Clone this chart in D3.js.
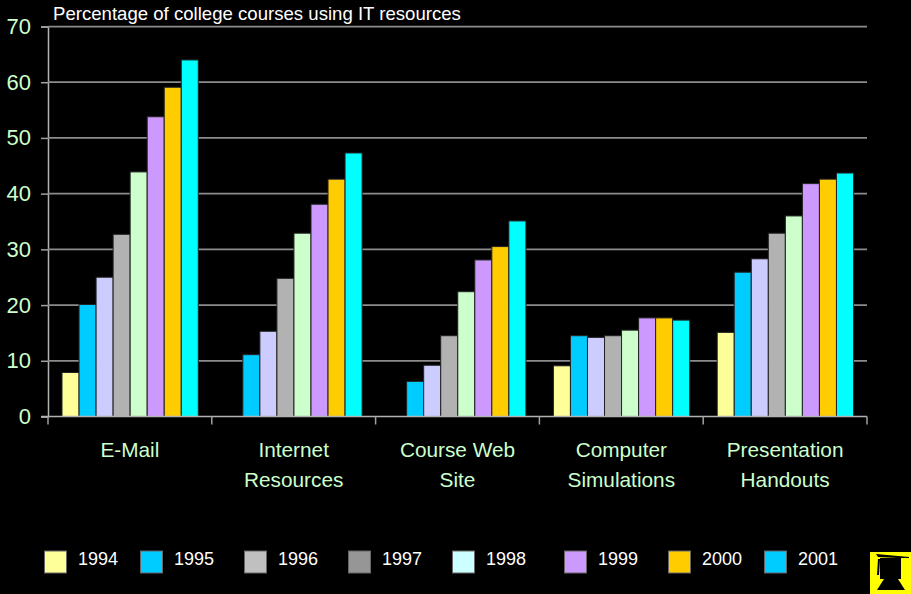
<!DOCTYPE html>
<html>
<head>
<meta charset="utf-8">
<script src="https://cdnjs.cloudflare.com/ajax/libs/d3/7.8.5/d3.min.js"></script>
<style>
html, body { margin: 0; padding: 0; background: #000; overflow: hidden; }
text { font-family: "Liberation Sans", Arial, sans-serif; }
</style>
</head>
<body>
<script>
// percentage of college courses using IT resources
const categories = ["E-Mail", "Internet Resources", "Course Web Site", "Computer Simulations", "Presentation Handouts"];
const categoryLines = [["E-Mail"], ["Internet", "Resources"], ["Course Web", "Site"], ["Computer", "Simulations"], ["Presentation", "Handouts"]];
const years = ["1994", "1995", "1996", "1997", "1998", "1999", "2000", "2001"];
const emailValues = [7.9, 20.1, 25, 32.7, 43.9, 53.8, 59.1, 64];
const internetValues = [null, 11.1, 15.3, 24.8, 32.9, 38.1, 42.6, 47.3];
const webSiteValues = [null, 6.3, 9.2, 14.5, 22.4, 28.1, 30.5, 35.1];
const simulationValues = [9.1, 14.5, 14.2, 14.5, 15.5, 17.7, 17.7, 17.3];
const handoutValues = [15.1, 25.9, 28.3, 32.9, 36, 41.8, 42.6, 43.7];
const seriesByCategory = [emailValues, internetValues, webSiteValues, simulationValues, handoutValues];
const yTicks = [0, 10, 20, 30, 40, 50, 60, 70];

const barColors = ["#ffff99", "#00ccff", "#ccccff", "#b2b2b2", "#ccffcc", "#cc99ff", "#ffcc00", "#00ffff"];
const legendColors = ["#ffff99", "#00ccff", "#c0c0c0", "#969696", "#ccffff", "#cc99ff", "#ffcc00", "#00ccff"];
const legendLeft = [44.5, 140.5, 244.5, 348.5, 452.5, 564.5, 668.5, 764.5];  // legend is not evenly spaced

const svg = d3.select("body").append("svg")
    .attr("width", 911)
    .attr("height", 594)
    .style("display", "block");

svg.append("rect").attr("width", 911).attr("height", 594).attr("fill", "#000");

const x = d3.scaleBand().domain(categories).range([48, 867]);
const inner = d3.scaleBand().domain(years).range([14, x.bandwidth() - 13.5]);
const y = d3.scaleLinear().domain([0, 70]).range([416.5, 26.5]);

// gridlines + y labels
const yAxis = d3.axisLeft(y).tickValues(yTicks).tickSize(7).tickPadding(10).tickFormat(d3.format("d"));
const gy = svg.append("g").attr("transform", "translate(48,0)").call(yAxis);
gy.select(".domain").attr("stroke", "#b2b2b2").attr("stroke-width", 1.5);
gy.selectAll(".tick line").attr("stroke", "#a0a0a0").attr("stroke-width", 1.5);
gy.selectAll(".tick text").attr("fill", "#ccffcc").attr("font-size", 22);

svg.append("g").selectAll("line")
    .data(yTicks.slice(1))
    .enter()
    .append("line")
    .attr("x1", 48)
    .attr("x2", 867)
    .attr("y1", d => y(d))
    .attr("y2", d => y(d))
    .attr("stroke", "#8c8c8c")
    .attr("stroke-width", 1.75);

// bars
const groups = svg.append("g").selectAll("g")
    .data(categories)
    .enter()
    .append("g")
    .attr("transform", d => "translate(" + x(d) + ",0)");

groups.selectAll("rect")
    .data((d, i) => seriesByCategory[i].map((v, j) => ({ year: years[j], value: v, color: barColors[j] })).filter(b => b.value !== null))
    .enter()
    .append("rect")
    .attr("x", d => inner(d.year))
    .attr("width", inner.bandwidth())
    .attr("y", d => y(d.value))
    .attr("height", d => y(0) - y(d.value))
    .attr("fill", d => d.color)
    .attr("stroke", "#222")
    .attr("stroke-width", 1);

// x axis
const xEdges = categories.map(c => x(c)).concat([867]);
svg.append("line")
    .attr("x1", 41).attr("x2", 867)
    .attr("y1", y(0)).attr("y2", y(0))
    .attr("stroke", "#b2b2b2").attr("stroke-width", 1.5);
svg.append("g").selectAll("line")
    .data(xEdges)
    .enter()
    .append("line")
    .attr("x1", d => d).attr("x2", d => d)
    .attr("y1", y(0)).attr("y2", y(0) + 8)
    .attr("stroke", "#a0a0a0").attr("stroke-width", 1.5);

// category labels, two lines each
groups.each(function (d, i) {
    d3.select(this).selectAll("text")
        .data(categoryLines[i])
        .enter()
        .append("text")
        .attr("x", x.bandwidth() / 2)
        .attr("y", (t, k) => 457 + k * 30)
        .attr("text-anchor", "middle")
        .attr("fill", "#ccffcc")
        .attr("font-size", 20.8)
        .text(t => t);
});

svg.append("text")
    .attr("x", 53)
    .attr("y", 20)
    .attr("fill", "#fff")
    .attr("font-size", 18.6)
    .text("Percentage of college courses using IT resources");

// legend
const legend = svg.append("g").selectAll("g")
    .data(years)
    .enter()
    .append("g")
    .attr("transform", (d, i) => "translate(" + legendLeft[i] + ",551)");
legend.append("rect")
    .attr("width", 22)
    .attr("height", 22)
    .attr("fill", (d, i) => legendColors[i])
    .attr("stroke", "#666")
    .attr("stroke-width", 1);
legend.append("text")
    .attr("x", 33.5)
    .attr("y", 14)
    .attr("fill", "#fff")
    .attr("font-size", 18)
    .text(d => d);

// yellow logo, bottom right
const logo = svg.append("g").attr("transform", "translate(870,552)");
logo.append("rect").attr("width", 41).attr("height", 42).attr("fill", "#ffff00");
logo.append("path")  // cap board
    .attr("d", "M6 2 L39 5 L39 6 L28 6 L8 5 Z")
    .attr("fill", "#000");
logo.append("path")  // cap body
    .attr("d", "M10 6 L31 6 L31 27 L10 27 Z")
    .attr("fill", "#000");
logo.append("path")  // shoulders
    .attr("d", "M14 27 L28 27 L35 38 L7 38 Z")
    .attr("fill", "#000");
logo.append("path")  // tassel gap
    .attr("d", "M8 7 L7 23 L9 23 L10 7 Z")
    .attr("fill", "#000");
</script>
</body>
</html>
